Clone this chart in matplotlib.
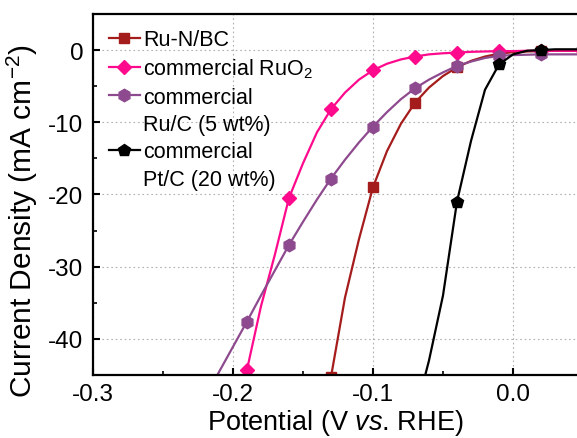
import matplotlib
matplotlib.use("Agg")
import matplotlib.pyplot as plt
from matplotlib.lines import Line2D

plt.rcParams.update({
    'font.family': ['Liberation Sans', 'DejaVu Sans'],
    'mathtext.fontset': 'custom',
    'mathtext.rm': 'Liberation Sans',
    'mathtext.it': 'Liberation Sans:italic',
})

# Polarisation curves, current density (mA cm-2) every 10 mV
v_run = [-0.13, -0.12, -0.11, -0.10, -0.09, -0.08, -0.07, -0.06, -0.05, -0.04,
         -0.03, -0.02, -0.01, 0.00, 0.01, 0.02, 0.03, 0.04, 0.05]
j_run = [-45.3, -34.3, -26.2, -19.0, -14.0, -10.2, -7.3, -5.2, -3.6, -2.4,
         -1.5, -0.9, -0.5, -0.3, -0.2, -0.15, -0.1, -0.1, -0.1]

v_ruo2 = [-0.19, -0.18, -0.17, -0.16, -0.15, -0.14, -0.13, -0.12, -0.11, -0.10,
          -0.09, -0.08, -0.07, -0.06, -0.05, -0.04, -0.03, -0.02, -0.01, 0.00,
          0.01, 0.02, 0.03, 0.04, 0.05]
j_ruo2 = [-44.3, -35.5, -28.3, -20.5, -15.7, -11.4, -8.2, -5.9, -4.1, -2.8,
          -1.9, -1.3, -0.9, -0.6, -0.45, -0.35, -0.25, -0.2, -0.15, -0.15,
          -0.1, -0.1, -0.1, -0.1, -0.1]

v_ruc = [-0.22, -0.21, -0.20, -0.19, -0.18, -0.17, -0.16, -0.15, -0.14, -0.13,
         -0.12, -0.11, -0.10, -0.09, -0.08, -0.07, -0.06, -0.05, -0.04, -0.03,
         -0.02, -0.01, 0.00, 0.01, 0.02, 0.03, 0.04, 0.05]
j_ruc = [-48.2, -44.6, -41.1, -37.6, -34.0, -30.5, -27.0, -23.8, -20.7, -17.8,
         -15.2, -12.8, -10.6, -8.6, -6.8, -5.3, -4.1, -3.1, -2.2, -1.6,
         -1.1, -0.8, -0.7, -0.65, -0.6, -0.6, -0.6, -0.6]

v_ptc = [-0.07, -0.06, -0.05, -0.04, -0.03, -0.02, -0.01, 0.00, 0.01, 0.02,
         0.03, 0.04, 0.05]
j_ptc = [-50.5, -43.0, -34.0, -21.0, -12.6, -5.5, -2.0, -0.6, -0.1, 0.0,
         0.1, 0.1, 0.1]

c_run = '#a51c1c'
c_ruo2 = '#ff0a8c'
c_ruc = '#8e4a8e'
c_ptc = 'black'

fig = plt.figure(figsize=(5.77, 4.39), dpi=100)
ax = fig.add_axes([0.161, 0.1435, 0.839, 0.8225])

lw = 1.6
ax.plot(v_run, j_run, color=c_run, lw=lw, marker='s', ms=7, markevery=3)
ax.plot(v_ruo2, j_ruo2, color=c_ruo2, lw=lw, marker='D', ms=7, markevery=3)
ax.plot(v_ruc, j_ruc, color=c_ruc, lw=lw, marker='h', ms=9, markevery=3)
ax.plot(v_ptc, j_ptc, color=c_ptc, lw=lw, marker='p', ms=9, markevery=3)

ax.set_xlim(-0.3, 0.0457)
ax.set_ylim(-45, 5)
ax.set_xticks([-0.3, -0.2, -0.1, 0.0])
ax.set_xticklabels(['-0.3', '-0.2', '-0.1', '0.0'])
ax.set_xticks([-0.25, -0.15, -0.05], minor=True)
ax.set_yticks([0, -10, -20, -30, -40])
ax.set_yticklabels(['0', '-10', '-20', '-30', '-40'])
ax.set_yticks([-5, -15, -25, -35], minor=True)
ax.tick_params(which='major', direction='in', length=5, width=1.5, labelsize=17.5)
ax.tick_params(which='minor', direction='in', length=3, width=1.2)
ax.tick_params(axis='x', pad=6)
ax.tick_params(axis='y', pad=7)
ax.grid(True, which='major', ls=(0, (1.5, 2.5)), color='#b0b0b0', lw=0.8)
for side in ('left', 'bottom', 'top'):
    ax.spines[side].set_linewidth(1.6)
ax.spines['right'].set_visible(False)

ax.set_xlabel('Potential (V $\\mathit{vs}$. RHE)', fontsize=19.5, labelpad=1)
ax.set_ylabel('Current Density (mA cm$^{-2}$)', fontsize=21.5)
ax.yaxis.set_label_coords(-0.11, 0.43)

# legend: two-line labels get a blank second row so the marker sits on the first line
blank = Line2D([], [], ls='none')
handles = [
    Line2D([], [], color=c_run, lw=lw, marker='s', ms=7),
    Line2D([], [], color=c_ruo2, lw=lw, marker='D', ms=7),
    Line2D([], [], color=c_ruc, lw=lw, marker='h', ms=9), blank,
    Line2D([], [], color=c_ptc, lw=lw, marker='p', ms=9), blank,
]
labels = ['Ru-N/BC', 'commercial RuO$_2$', 'commercial', 'Ru/C (5 wt%)',
          'commercial', 'Pt/C (20 wt%)']
ax.legend(handles, labels, loc='upper left', bbox_to_anchor=(0.015, 0.982),
          frameon=False, fontsize=15.5, handlelength=1.45, handletextpad=0.15,
          labelspacing=0.3, borderaxespad=0)

fig.savefig('out.png', dpi=100)
